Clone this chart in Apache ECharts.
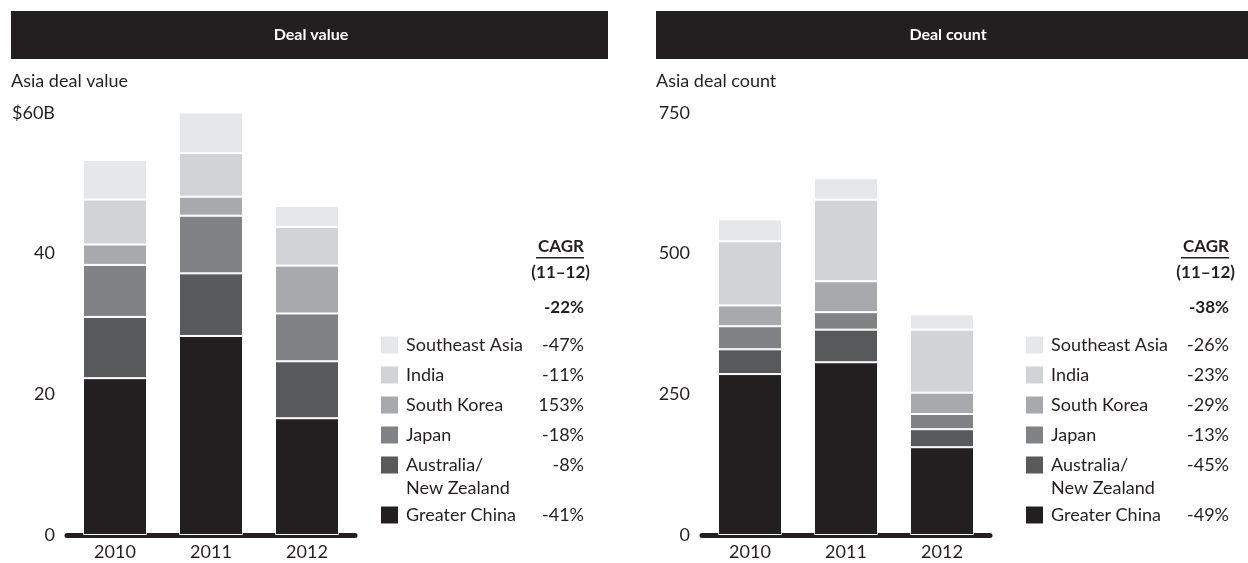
<!DOCTYPE html>
<html>
<head>
<meta charset="utf-8" />
<title>Asia deals</title>
<script src="https://cdn.jsdelivr.net/npm/echarts@6/dist/echarts.min.js"></script>
<style>
  html, body { margin: 0; padding: 0; background: #fff; }
  #chart { width: 1248px; height: 563px; }
</style>
</head>
<body>
<div id="chart"></div>
<script>
// categories
var years = ['2010', '2011', '2012'];
// regions, bottom of stack first
var regions = ['Greater China', 'Australia/\nNew Zealand', 'Japan', 'South Korea', 'India', 'Southeast Asia'];
var regionColors = ['#231f20', '#58595b', '#808285', '#a7a9ac', '#d1d3d4', '#e6e7e8'];

// deal value ($B), one array per region
var valueGreaterChina = [22.3, 28.3, 16.6];
var valueAusNz = [8.7, 8.9, 8.1];
var valueJapan = [7.4, 8.2, 6.8];
var valueSouthKorea = [2.9, 2.7, 6.8];
var valueIndia = [6.4, 6.2, 5.5];
var valueSeAsia = [5.6, 5.8, 3.0];

// deal count
var countGreaterChina = [286, 307, 156];
var countAusNz = [44, 58, 32];
var countJapan = [41, 31, 27];
var countSouthKorea = [37, 55, 38];
var countIndia = [114, 145, 112];
var countSeAsia = [39, 38, 27];

// CAGR 11-12 columns (same order as regions)
var cagrValue = ['-41%', '-8%', '-18%', '153%', '-11%', '-47%'];
var cagrCount = ['-49%', '-45%', '-13%', '-29%', '-23%', '-26%'];
var cagrValueTotal = '-22%';
var cagrCountTotal = '-38%';

var valueSeries = [valueGreaterChina, valueAusNz, valueJapan, valueSouthKorea, valueIndia, valueSeAsia];
var countSeries = [countGreaterChina, countAusNz, countJapan, countSouthKorea, countIndia, countSeAsia];

var ink = '#231f20';
var font = 'Lato';

var myChart = echarts.init(document.getElementById('chart'));

function makeSeries(list, idx, stackName) {
  return list.map(function (arr, i) {
    return {
      type: 'bar',
      name: regions[i],
      stack: stackName,
      xAxisIndex: idx,
      yAxisIndex: idx,
      barWidth: 64,
      data: arr,
      itemStyle: { color: regionColors[i], borderColor: '#fff', borderWidth: 1 },
      emphasis: { disabled: true }
    };
  });
}

function txt(x, y, s, f, align) {
  return { type: 'text', x: x, y: y, style: { text: s, font: f, fill: ink, align: align || 'left', verticalAlign: 'middle' } };
}

// legend block for one panel
function legendBlock(sqX, valRight, cagrs, total) {
  var rows = [345, 375, 405, 435, 465, 515]; // top to bottom: SEA ... GC
  var g = [];
  g.push(txt(valRight, 247, 'CAGR', 'bold 17px ' + font, 'right'));
  g.push({ type: 'rect', shape: { x: valRight - 48, y: 257, width: 48, height: 1.5 }, style: { fill: ink } });
  g.push(txt(valRight + 6, 273, '(11\u201312)', 'bold 17px ' + font, 'right'));
  g.push(txt(valRight, 308, total, 'bold 17px ' + font, 'right'));
  for (var k = 0; k < 6; k++) {
    var i = 5 - k;
    var cy = rows[k];
    g.push({ type: 'rect', shape: { x: sqX, y: cy - 8.5, width: 17, height: 17 }, style: { fill: regionColors[i] } });
    g.push({ type: 'text', x: sqX + 25, y: cy - 11.5, style: { text: regions[i], font: '18px ' + font, fill: ink, lineHeight: 23, verticalAlign: 'top' } });
    g.push(txt(valRight, cy, cagrs[i], '18px ' + font, 'right'));
  }
  return g;
}

var graphics = [
  { type: 'rect', shape: { x: 11, y: 11, width: 597, height: 48 }, style: { fill: ink } },
  { type: 'rect', shape: { x: 656, y: 11, width: 592, height: 48 }, style: { fill: ink } },
  { type: 'text', x: 311, y: 35, style: { text: 'Deal value', font: 'bold 16px ' + font, fill: '#fff', align: 'center', verticalAlign: 'middle' } },
  { type: 'text', x: 948, y: 35, style: { text: 'Deal count', font: 'bold 16px ' + font, fill: '#fff', align: 'center', verticalAlign: 'middle' } },
  txt(11, 81, 'Asia deal value', '18px ' + font),
  txt(656, 81, 'Asia deal count', '18px ' + font)
].concat(legendBlock(381, 584, cagrValue, cagrValueTotal), legendBlock(1026, 1229, cagrCount, cagrCountTotal));

function xAx(gi) {
  return {
    type: 'category', gridIndex: gi, data: years,
    axisLine: { lineStyle: { color: ink, width: 5 } },
    axisTick: { show: false },
    axisLabel: { color: ink, fontSize: 18, fontFamily: font, margin: 8 }
  };
}
function yAx(gi, max, interval, fmt) {
  return {
    type: 'value', gridIndex: gi, min: 0, max: max, interval: interval,
    splitLine: { show: false }, axisLine: { show: false }, axisTick: { show: false },
    axisLabel: { color: ink, fontSize: 18, fontFamily: font, margin: 12, formatter: fmt }
  };
}

var option = {
  animation: false,
  grid: [
    { left: 67, width: 288, top: 113, height: 422 },
    { left: 702, width: 288, top: 113, height: 422 }
  ],
  xAxis: [xAx(0), xAx(1)],
  yAxis: [
    yAx(0, 60, 20, function (v) { return v === 60 ? '$60B' : v; }),
    yAx(1, 750, 250, function (v) { return v; })
  ],
  series: makeSeries(valueSeries, 0, 'value').concat(makeSeries(countSeries, 1, 'count')),
  graphic: graphics
};

myChart.setOption(option);
</script>
</body>
</html>
